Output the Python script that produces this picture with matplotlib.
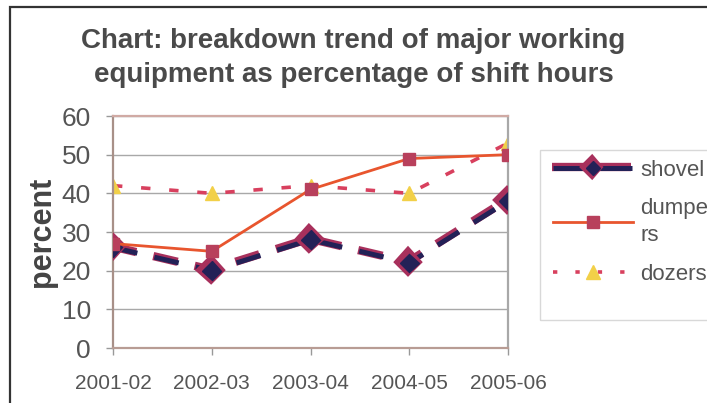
"""Breakdown trend of major working equipment (percentage of shift hours)."""

import matplotlib

matplotlib.use("Agg")

import matplotlib.patheffects as pe
import matplotlib.pyplot as plt
from matplotlib.lines import Line2D
from matplotlib.patches import Rectangle

YEARS = ["2001-02", "2002-03", "2003-04", "2004-05", "2005-06"]
SHOVEL = [26, 20, 28, 22, 38]
DUMPERS = [27, 25, 41, 49, 50]
DOZERS = [42, 40, 42, 40, 53]
Y_TICKS = [0, 10, 20, 30, 40, 50, 60]

TEXT_COLOR = "#555555"
GRID_COLOR = "#a8a8a8"
NAVY = "#232157"
FRINGE = "#a8305c"
DUMPER_LINE = "#e8552e"
DUMPER_MARK = "#b8405c"
DOZER_LINE = "#d8405e"
DOZER_MARK = "#f2d048"

W, H = 707, 403


def main() -> None:
    plt.rcParams.update(
        {
            "font.family": ["Liberation Sans", "DejaVu Sans"],
            "text.color": TEXT_COLOR,
        }
    )

    fig = plt.figure(figsize=(W / 100, H / 100), dpi=100)
    fig.patch.set_facecolor("white")
    ax = fig.add_axes([113 / W, 1 - 348 / H, (508 - 113) / W, (348 - 116) / H])

    x = list(range(len(YEARS)))
    shovel_fx = [pe.Stroke(linewidth=6.0, foreground=FRINGE, offset=(-0.8, 0.8)), pe.Normal()]

    ax.plot(x, SHOVEL, color=NAVY, linewidth=3.6, dashes=(5, 3.5), marker="D",
            markersize=9.5, markerfacecolor=NAVY, markeredgecolor=NAVY,
            path_effects=shovel_fx, zorder=3)
    ax.plot(x, DUMPERS, color=DUMPER_LINE, linewidth=2.0, marker="s",
            markersize=8, markerfacecolor=DUMPER_MARK, markeredgecolor=DUMPER_MARK, zorder=4)
    ax.plot(x, DOZERS, color=DOZER_LINE, linewidth=2.6, dashes=(2.6, 5.2), marker="^",
            markersize=9.5, markerfacecolor=DOZER_MARK, markeredgecolor=DOZER_MARK, zorder=2)

    ax.set_xlim(0, len(YEARS) - 1)
    ax.set_ylim(0, 60)
    ax.set_xticks(x)
    ax.set_xticklabels(YEARS, fontsize=15, color=TEXT_COLOR)
    ax.set_yticks(Y_TICKS)
    ax.set_yticklabels([str(v) for v in Y_TICKS], fontsize=19, color=TEXT_COLOR)
    ax.tick_params(axis="x", length=5, width=1, color="#999999", pad=14)
    ax.tick_params(axis="y", length=5, width=1, color="#999999", pad=11)
    ax.set_ylabel("percent", fontsize=22, fontweight="bold", color="#444444", labelpad=3)

    ax.grid(axis="y", color=GRID_COLOR, linewidth=1.0)
    ax.set_axisbelow(True)
    ax.spines["top"].set_color("#d0aaa4")
    ax.spines["left"].set_color("#a89088")
    ax.spines["bottom"].set_color("#b89c94")
    ax.spines["right"].set_color("#a8a8a8")
    for spine in ax.spines.values():
        spine.set_linewidth(1.6)

    fig.text(0.50, 1 - 58 / H,
             "Chart: breakdown trend of major working\nequipment as percentage of shift hours",
             ha="center", va="center", fontsize=20, fontweight="bold",
             color="#4a4a4a", linespacing=1.4)

    handles = [
        Line2D([], [], color=NAVY, linewidth=3.6, dashes=(7, 1.8), marker="D",
               markersize=7, path_effects=shovel_fx),
        Line2D([], [], color=DUMPER_LINE, linewidth=2.0, marker="s", markersize=8,
               markerfacecolor=DUMPER_MARK, markeredgecolor=DUMPER_MARK),
        Line2D([], [], color=DOZER_LINE, linewidth=2.6, dashes=(1.2, 5.0), marker="^",
               markersize=9.5, markerfacecolor=DOZER_MARK, markeredgecolor=DOZER_MARK),
    ]
    legend = fig.legend(handles, ["shovel", "dumpe\nrs", "dozers"],
                        loc="upper left", bbox_to_anchor=(546 / W, 1 - 153 / H),
                        fontsize=16, frameon=False,
                        handlelength=3.6, handletextpad=0.35, labelspacing=0.8,
                        borderpad=0.3, borderaxespad=0.0)
    for text in legend.get_texts():
        text.set_color(TEXT_COLOR)
        text.set_linespacing(1.35)

    fig.patches.append(Rectangle((540 / W, 1 - 320 / H), 0.5, (320 - 150) / H,
                                 transform=fig.transFigure, fill=False,
                                 edgecolor="#d8d8d8", linewidth=1.0))
    fig.patches.append(Rectangle((10 / W, -0.05), 1.0, 1.0 - 7 / H + 0.05,
                                 transform=fig.transFigure, fill=False,
                                 edgecolor="#333333", linewidth=1.6))

    fig.savefig("out.png", dpi=100, facecolor="white")
    plt.close(fig)


if __name__ == "__main__":
    main()
